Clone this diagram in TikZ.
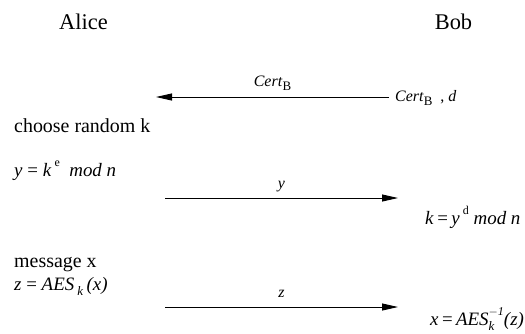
\documentclass[tikz,border=0pt]{standalone}
\usepackage{fontspec}
\setmainfont{Liberation Serif}
\usetikzlibrary{arrows.meta}
\newcommand{\bodyf}{\fontsize{20}{24}\selectfont}
\newcommand{\formf}{\fontsize{19}{23}\selectfont}
\newcommand{\headf}{\fontsize{22.5}{26}\selectfont}
\newcommand{\labf}{\fontsize{16}{19}\selectfont}
\newcommand{\supr}[1]{\raisebox{0.5em}{\fontsize{12}{12}\selectfont #1}}
\newcommand{\subr}[1]{\raisebox{-0.3em}{\fontsize{13}{13}\selectfont #1}}
\newcommand{\eqs}{\hspace{0.18em}=\hspace{0.18em}}
\begin{document}
\begin{tikzpicture}[x=1bp,y=-1bp,
  txt/.style={inner sep=0pt,anchor=base west},
  msg/.style={line width=0.9bp,-{Triangle[length=16bp,width=7bp]}},
  lab/.style={inner sep=0pt,anchor=base,font=\labf}]
\useasboundingbox (0,0) rectangle (525,333);
% headings
\node[inner sep=0pt,anchor=base,font=\headf] (alice) at (83.5,29) {Alice};
\node[inner sep=0pt,anchor=base,font=\headf] (bob) at (453.5,29) {Bob};
% message 1
\node[txt,font=\labf] (cbd) at (395,101) {\textit{Cert}\subr{B}~ , \textit{d}};
\coordinate (m1s) at (389,97);
\coordinate (m1e) at (156,97);
\draw[msg] (m1s) -- (m1e) node[lab,pos=0.5,yshift=11bp] (l1) {\textit{Cert}\subr{B}};
% Alice steps
\node[txt,font=\bodyf] (choose) at (14,132) {choose random k};
\node[txt,font=\formf] (yke) at (14,176) {\textit{y} = \textit{k}\,\supr{e}\ \ \textit{mod n}};
\coordinate (m2s) at (165,198);
\coordinate (m2e) at (398,198);
\draw[msg] (m2s) -- (m2e) node[lab,pos=0.5,yshift=10bp] (l2) {\textit{y}};
\node[txt,font=\formf] (kyd) at (425,224) {\textit{k}\eqs\textit{y}\,\supr{d}\ \textit{mod n}};
\node[txt,font=\bodyf] (msgx) at (14,267) {message x};
\node[txt,font=\formf] (zaes) at (14,290) {\textit{z} = \textit{AES}\,\subr{\textit{k}}\,\textit{(x)}};
\coordinate (m3s) at (165,307);
\coordinate (m3e) at (398,307);
\draw[msg] (m3s) -- (m3e) node[lab,pos=0.5,yshift=10bp] (l3) {\textit{z}};
\node[txt,font=\formf] (xaes) at (430,325) {\textit{x}\eqs\textit{AES}\rlap{\subr{\textit{k}}}\supr{\textit{$-$1}}\textit{(z)}};
\end{tikzpicture}
\end{document}
